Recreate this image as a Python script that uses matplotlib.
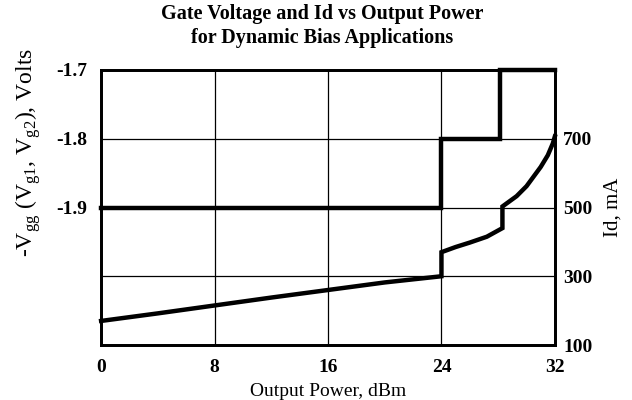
import matplotlib
matplotlib.use("Agg")
import matplotlib.pyplot as plt

# gate voltage step curve (left axis)
power_v = [0, 24, 24, 28.1, 28.1, 32]
vgg = [-1.9, -1.9, -1.8, -1.8, -1.7, -1.7]

# drain current curve (right axis)
power_id = [0, 4, 8, 12, 16, 20, 24, 24, 25, 26, 27.2, 28.3, 28.3,
            29.3, 30, 31, 31.5, 31.85, 32]
id_ma = [170, 192, 215, 238, 260, 282, 300, 370, 385, 398, 415, 440, 503,
         533, 562, 618, 652, 686, 707]

x_ticks = [0, 8, 16, 24, 32]
v_ticks = [-1.9, -1.8, -1.7]
id_ticks = [100, 300, 500, 700]

plt.rcParams["font.family"] = ["Liberation Serif", "DejaVu Serif"]

fig = plt.figure(figsize=(6.32, 4.0), dpi=100)
ax = fig.add_axes([0.160, 0.1375, 0.718, 0.6875])
ax2 = ax.twinx()

ax.set_xlim(0, 32)
ax.set_ylim(-2.1, -1.7)
ax2.set_ylim(100, 900)

ax.plot(power_v, vgg, color="black", lw=3.2, solid_joinstyle="miter", clip_on=False, zorder=5)
ax2.plot(power_id, id_ma, color="black", lw=3.2, solid_joinstyle="miter", clip_on=False, zorder=5)

ax.set_xticks(x_ticks)
ax.set_xticklabels([str(t) for t in x_ticks], fontsize=14, fontweight="bold")
ax.set_yticks(v_ticks)
ax.set_yticklabels([f"{t:.1f}" for t in v_ticks], fontsize=14, fontweight="bold")
ax2.set_yticks(id_ticks)
ax2.set_yticklabels([str(t) for t in id_ticks], fontsize=14, fontweight="bold")

ax.tick_params(axis="x", length=0, pad=10)
ax.tick_params(axis="y", length=0, pad=10)
ax2.tick_params(length=0, pad=6)

ax.grid(axis="x", color="black", lw=0.9)
ax2.grid(axis="y", color="black", lw=0.9)
ax.set_zorder(ax2.get_zorder() + 1)
ax.patch.set_visible(False)

for a in (ax, ax2):
    for s in a.spines.values():
        s.set_linewidth(2)

ax.set_xlabel("Output Power, dBm", fontsize=14, labelpad=5)
ax.set_ylabel(r"-V$_{\mathregular{gg}}$ (V$_{\mathregular{g1}}$, V$_{\mathregular{g2}}$), Volts",
              fontsize=17, labelpad=8)
ax.yaxis.set_label_coords(-0.127, 0.70)
ax2.set_ylabel("Id, mA", fontsize=15, labelpad=8)

fig.suptitle("Gate Voltage and Id vs Output Power\nfor Dynamic Bias Applications",
             fontsize=14.5, fontweight="bold", y=0.99, x=0.51, linespacing=1.3)

fig.savefig("out.png", dpi=100)
